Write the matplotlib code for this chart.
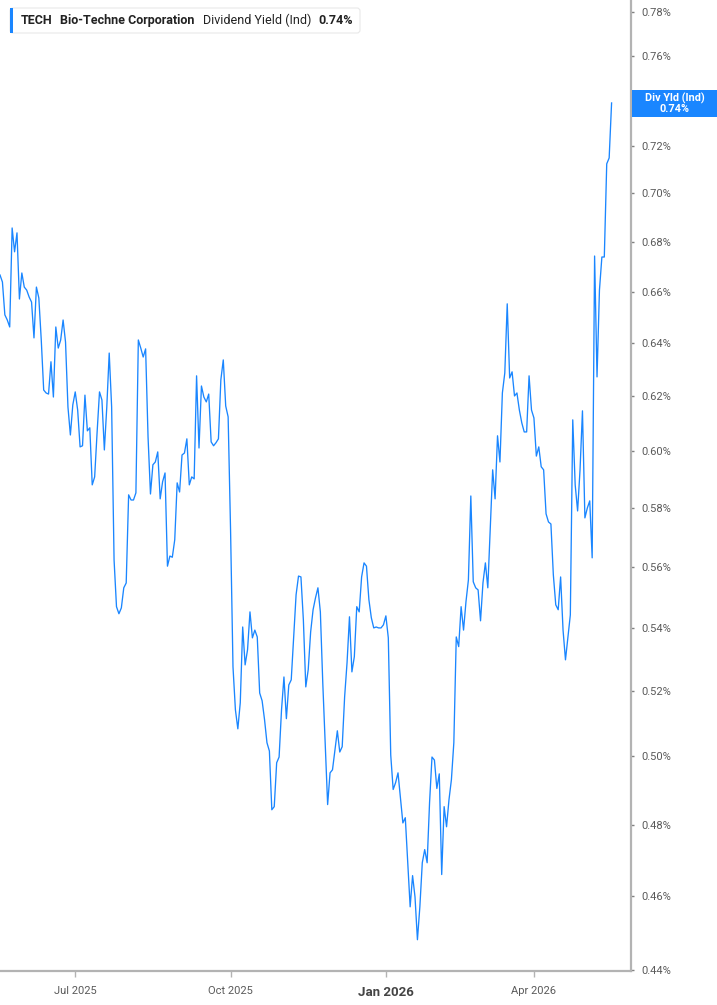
import numpy as np
import pandas as pd
import matplotlib
matplotlib.use("Agg")
import matplotlib.pyplot as plt
from matplotlib.patches import FancyBboxPatch, Rectangle
from matplotlib.ticker import FixedLocator, FuncFormatter, NullLocator

plt.rcParams['font.family'] = ['Roboto', 'DejaVu Sans']

# --- data ---
ticker = "TECH"
company = "Bio-Techne Corporation"
metric = "Dividend Yield (Ind)"
badge_name = "Div Yld (Ind)"
start_date = "2025-05-15"
market_holidays = ["2025-05-26", "2025-06-19", "2025-07-04", "2025-09-01",
                   "2025-11-27", "2025-12-25", "2026-01-01", "2026-01-19",
                   "2026-02-16", "2026-04-03", "2026-05-25"]

# daily dividend yield, %
yield_pct = [
    0.6667, 0.6639, 0.6510, 0.6490, 0.6463, 0.6857, 0.6760, 0.6837, 0.6572, 0.6675,
    0.6619, 0.6607, 0.6580, 0.6560, 0.6421, 0.6619, 0.6576, 0.6413, 0.6224, 0.6213,
    0.6209, 0.6330, 0.6198, 0.6463, 0.6382, 0.6413, 0.6490, 0.6405, 0.6161, 0.6059,
    0.6169, 0.6217, 0.6150, 0.6016, 0.6020, 0.6205, 0.6074, 0.6085, 0.5881, 0.5909,
    0.6067, 0.6217, 0.6187, 0.6005, 0.6161, 0.6363, 0.6161, 0.5623, 0.5468, 0.5445,
    0.5464, 0.5530, 0.5546, 0.5846, 0.5828, 0.5828, 0.5853, 0.6413, 0.6382, 0.6348,
    0.6379, 0.6052, 0.5849, 0.5952, 0.5962, 0.5998, 0.5832, 0.5892, 0.5923, 0.5602,
    0.5636, 0.5632, 0.5691, 0.5888, 0.5856, 0.5987, 0.5994, 0.6045, 0.5881, 0.5909,
    0.5902, 0.6277, 0.6012, 0.6239, 0.6198, 0.6180, 0.6209, 0.6034, 0.6020, 0.6031,
    0.6045, 0.6262, 0.6337, 0.6165, 0.6125, 0.5725, 0.5275, 0.5141, 0.5083, 0.5163,
    0.5402, 0.5281, 0.5329, 0.5451, 0.5367, 0.5392, 0.5370, 0.5193, 0.5169, 0.5111,
    0.5041, 0.5016, 0.4843, 0.4852, 0.4981, 0.4998, 0.5141, 0.5243, 0.5114, 0.5218,
    0.5234, 0.5367, 0.5507, 0.5569, 0.5566, 0.5425, 0.5212, 0.5266, 0.5386, 0.5458,
    0.5497, 0.5530, 0.5451, 0.5224, 0.5041, 0.4858, 0.4951, 0.4960, 0.5019, 0.5077,
    0.5013, 0.5029, 0.5181, 0.5288, 0.5435, 0.5259, 0.5307, 0.5468, 0.5451, 0.5566,
    0.5613, 0.5602, 0.5491, 0.5432, 0.5399, 0.5402, 0.5399, 0.5399, 0.5409, 0.5438,
    0.5367, 0.5004, 0.4902, 0.4922, 0.4951, 0.4878, 0.4805, 0.4820, 0.4692, 0.4570,
    0.4656, 0.4597, 0.4481, 0.4570, 0.4692, 0.4729, 0.4692, 0.4864, 0.4998, 0.4989,
    0.4905, 0.4948, 0.4659, 0.4852, 0.4794, 0.4872, 0.4931, 0.5041, 0.5370, 0.5339,
    0.5468, 0.5392, 0.5484, 0.5556, 0.5842, 0.5550, 0.5530, 0.5523, 0.5422, 0.5546,
    0.5613, 0.5530, 0.5725, 0.5934, 0.5832, 0.6056, 0.5962, 0.6213, 0.6288, 0.6553,
    0.6269, 0.6292, 0.6202, 0.6213, 0.6150, 0.6103, 0.6070, 0.6070, 0.6277, 0.6150,
    0.6121, 0.5983, 0.6016, 0.5945, 0.5934, 0.5780, 0.5752, 0.5745, 0.5573, 0.5474,
    0.5458, 0.5566, 0.5392, 0.5297, 0.5370, 0.5441, 0.6114, 0.5881, 0.5790, 0.5934,
    0.6147, 0.5766, 0.5800, 0.5825, 0.5630, 0.6743, 0.6273, 0.6607, 0.6739, 0.6739,
    0.7125, 0.7150, 0.7389,
]

y_ticks = [0.44, 0.46, 0.48, 0.50, 0.52, 0.54, 0.56, 0.58, 0.60, 0.62,
           0.64, 0.66, 0.68, 0.70, 0.72, 0.74, 0.76, 0.78]
quarter_months = [1, 4, 7, 10]

LINE = '#1a86ff'
TXT = '#5a5a5a'
SPINE = '#b3b3b3'

dates = pd.bdate_range(start=start_date, periods=len(yield_pct), freq='C',
                       holidays=market_holidays)
idx = np.arange(len(yield_pct))
last_val = yield_pct[-1]

fig = plt.figure(figsize=(7.17, 10.05), dpi=100)
ax = fig.add_axes([0, 34 / 1005, 631 / 717, 971 / 1005])

ax.plot(idx, yield_pct, color=LINE, lw=0.95)

ax.set_yscale('log')
ax.set_ylim(0.4398, 0.7858)
ax.set_xlim(0, 260)


def pct_label(v, pos):
    # the tick under the value badge stays unlabelled
    if abs(v - round(last_val, 2)) < 1e-9:
        return ''
    return f"{v:.2f}%"


ax.yaxis.tick_right()
ax.yaxis.set_major_locator(FixedLocator(y_ticks))
ax.yaxis.set_minor_locator(NullLocator())
ax.yaxis.set_major_formatter(FuncFormatter(pct_label))

# first trading day of each quarter month
tick_pos, tick_lab = [], []
for i in range(1, len(dates)):
    if dates[i].month != dates[i - 1].month and dates[i].month in quarter_months:
        tick_pos.append(i)
        tick_lab.append(dates[i].strftime('%b %Y'))
ax.set_xticks(tick_pos)
ax.set_xticklabels(tick_lab)
ax.xaxis.set_minor_locator(NullLocator())

for s in ['left', 'top']:
    ax.spines[s].set_visible(False)
for s in ['right', 'bottom']:
    ax.spines[s].set_color(SPINE)
    ax.spines[s].set_linewidth(1.6)

ax.tick_params(axis='y', direction='out', length=2.5, width=1, color='#808080',
               labelsize=8, labelcolor=TXT, pad=5)
ax.tick_params(axis='x', direction='out', length=4, width=1, color=SPINE,
               labelsize=8, labelcolor=TXT, pad=7)
for t in ax.get_xticklabels():
    if t.get_text().startswith('Jan'):
        t.set_fontweight('bold')
        t.set_fontsize(9.5)
        t.set_color('#444444')

# header box, top left
tr = fig.dpi_scale_trans
H = 10.05
fig.add_artist(FancyBboxPatch((0.10, H - 0.33), 3.50, 0.25,
                              boxstyle='round,pad=0,rounding_size=0.03',
                              fc='white', ec='#e8e8e8', lw=0.8, transform=tr))
fig.add_artist(Rectangle((0.10, H - 0.33), 0.03, 0.25, fc=LINE, ec='none', transform=tr))
yc = H - 0.205
fig.text(0.205, yc, ticker, transform=tr, fontsize=9, weight='bold', color='#222222', va='center')
fig.text(0.605, yc, company, transform=tr, fontsize=9, weight='bold', color='#222222', va='center')
fig.text(2.03, yc, metric, transform=tr, fontsize=9, color='#222222', va='center')
fig.text(3.18, yc, f"{last_val:.2f}%", transform=tr, fontsize=9, weight='bold',
         color='#222222', va='center')

# current value badge on the right axis
fig.add_artist(Rectangle((6.32, H - 1.17), 0.85, 0.27, fc=LINE, ec='none', transform=tr))
fig.text(6.745, H - 1.035, f"{badge_name}\n{last_val:.2f}%", transform=tr,
         ha='center', va='center', fontsize=7.8, weight='bold', color='white',
         linespacing=0.95)

fig.savefig('out.png', dpi=100)
